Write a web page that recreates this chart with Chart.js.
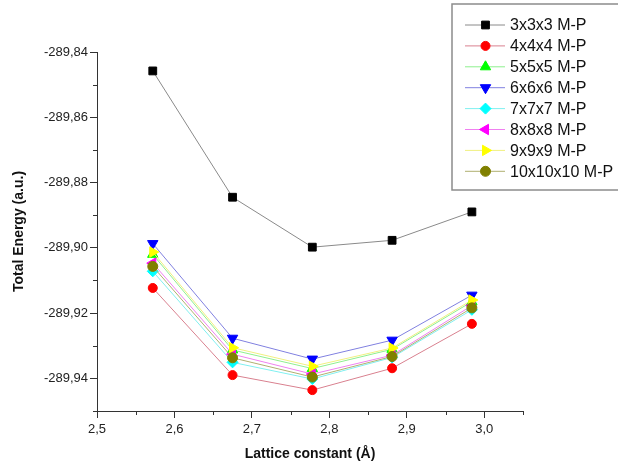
<!DOCTYPE html>
<html>
<head>
<meta charset="utf-8">
<script src="https://cdn.jsdelivr.net/npm/chart.js@4/dist/chart.umd.min.js"></script>
<style>
  html, body { margin: 0; padding: 0; background: #ffffff; }
  #wrap { width: 618px; height: 471px; }
</style>
</head>
<body>
<div id="wrap"><canvas id="c" width="618" height="471"></canvas></div>
<script>
// Lattice constants (Å) of the computed points
const latticeConstants = [2.572, 2.675, 2.778, 2.881, 2.984];

// k-point mesh labels
const meshLabels = ['3x3x3 M-P', '4x4x4 M-P', '5x5x5 M-P', '6x6x6 M-P',
                    '7x7x7 M-P', '8x8x8 M-P', '9x9x9 M-P', '10x10x10 M-P'];

// Total energy (a.u.) for each mesh
const energy3 = [-289.8458, -289.8845, -289.8998, -289.8977, -289.8890];
const energy4 = [-289.9123, -289.9390, -289.9436, -289.9369, -289.9233];
const energy5 = [-289.9020, -289.9313, -289.9370, -289.9311, -289.9165];
const energy6 = [-289.8987, -289.9277, -289.9341, -289.9283, -289.9145];
const energy7 = [-289.9072, -289.9351, -289.9402, -289.9336, -289.9190];
const energy8 = [-289.9047, -289.9326, -289.9387, -289.9329, -289.9177];
const energy9 = [-289.9013, -289.9306, -289.9363, -289.9307, -289.9160];
const energy10 = [-289.9057, -289.9337, -289.9396, -289.9333, -289.9184];

// Axis tick spacing (every second tick is labelled)
const xTickStep = 0.05;
const yTickStep = 0.01;

const allEnergies = [energy3, energy4, energy5, energy6, energy7, energy8, energy9, energy10];

// Marker styling per series
const markerColors = ['#000000', '#ff0000', '#00ff00', '#0000ff', '#00ffff', '#ff00ff', '#ffff00', '#808000'];
const lineColors = ['#8a8a8a', '#d9808f', '#8ef08e', '#8080e0', '#80f0f0', '#f080f0', '#f0f080', '#b0b070'];
const markerShapes = ['rect', 'circle', 'triangle', 'triangle', 'rectRot', 'triangle', 'triangle', 'circle'];
const markerRotations = [0, 0, 0, 180, 0, -90, 90, 0];
const markerRadii = [5.5, 4.5, 6, 6, 5.5, 6, 6, 5];

const FONT = "'Liberation Sans', Arial, Helvetica, sans-serif";
const AXIS_COLOR = '#333333';
const MINOR_TICK = 4;

const datasets = allEnergies.map((vals, i) => ({
  label: meshLabels[i],
  data: latticeConstants.map((x, j) => ({ x: x, y: vals[j] })),
  borderColor: lineColors[i],
  borderWidth: 1,
  backgroundColor: markerColors[i],
  pointBackgroundColor: markerColors[i],
  pointBorderColor: markerColors[i],
  pointBorderWidth: 1,
  pointStyle: markerShapes[i],
  pointRotation: markerRotations[i],
  pointRadius: markerRadii[i],
  pointHoverRadius: markerRadii[i],
  tension: 0,
  fill: false,
  order: allEnergies.length - i
}));

const isMultiple = (v, step) => Math.abs(Math.round(v / step) - v / step) < 1e-6;
const xIsMajor = v => isMultiple(v, 0.1);
const yIsMajor = v => Math.round(v * 100) % 2 === 0;

// Short outward marks for the unlabelled ticks
const minorTicks = {
  id: 'minorTicks',
  afterDraw(chart) {
    const ctx = chart.ctx;
    const xs = chart.scales.x, ys = chart.scales.y;
    ctx.save();
    ctx.strokeStyle = AXIS_COLOR;
    ctx.lineWidth = 1;
    ctx.beginPath();
    xs.ticks.forEach(t => {
      if (xIsMajor(t.value)) return;
      const px = Math.round(xs.getPixelForValue(t.value)) + 0.5;
      ctx.moveTo(px, xs.top);
      ctx.lineTo(px, xs.top + MINOR_TICK);
    });
    ys.ticks.forEach(t => {
      if (yIsMajor(t.value)) return;
      const py = Math.round(ys.getPixelForValue(t.value)) + 0.5;
      ctx.moveTo(ys.right, py);
      ctx.lineTo(ys.right - MINOR_TICK, py);
    });
    ctx.stroke();
    ctx.restore();
  }
};

// Boxed legend drawn over the top-right corner of the plot
const boxedLegend = {
  id: 'boxedLegend',
  afterDraw(chart) {
    const ctx = chart.ctx;
    const left = 452, top = 4, right = 622, bottom = 190;
    ctx.save();
    ctx.fillStyle = '#ffffff';
    ctx.fillRect(left, top, right - left, bottom - top);
    ctx.strokeStyle = '#8c8c8c';
    ctx.lineWidth = 1.5;
    ctx.strokeRect(left, top, right - left, bottom - top);
    const rowTop = 25, rowStep = 20.9;
    chart.data.datasets.forEach((ds, i) => {
      const y = rowTop + i * rowStep;
      ctx.strokeStyle = ds.borderColor;
      ctx.lineWidth = 1;
      ctx.beginPath();
      ctx.moveTo(465, y);
      ctx.lineTo(505, y);
      ctx.stroke();
      ctx.fillStyle = ds.pointBackgroundColor;
      ctx.strokeStyle = ds.pointBorderColor;
      Chart.helpers.drawPoint(ctx, {
        pointStyle: ds.pointStyle,
        rotation: ds.pointRotation,
        radius: ds.pointRadius,
        borderWidth: 1
      }, 485.5, y);
      ctx.fillStyle = '#111111';
      ctx.font = '16px ' + FONT;
      ctx.textBaseline = 'middle';
      ctx.textAlign = 'left';
      ctx.fillText(ds.label, 510, y + 1);
    });
    ctx.restore();
  }
};

new Chart(document.getElementById('c'), {
  type: 'line',
  data: { datasets: datasets },
  plugins: [minorTicks, boxedLegend],
  options: {
    responsive: false,
    animation: false,
    devicePixelRatio: 1,
    layout: { padding: { top: 52, right: 95, bottom: 0, left: 0 } },
    plugins: {
      legend: { display: false },
      tooltip: { enabled: false }
    },
    scales: {
      x: {
        type: 'linear',
        min: 2.5,
        max: 3.05,
        afterFit: s => { s.height = 60; },
        ticks: {
          stepSize: xTickStep,
          autoSkip: false,
          maxRotation: 0,
          padding: 4,
          color: '#222222',
          font: { family: FONT, size: 13 },
          callback: v => xIsMajor(v) ? v.toFixed(1).replace('.', ',') : ''
        },
        grid: {
          display: true,
          drawOnChartArea: false,
          drawTicks: true,
          tickLength: 7,
          tickColor: c => (c.tick && xIsMajor(c.tick.value)) ? AXIS_COLOR : 'rgba(0,0,0,0)',
          color: AXIS_COLOR
        },
        border: { display: true, color: AXIS_COLOR, width: 1 },
        title: {
          display: true,
          text: 'Lattice constant (Å)',
          color: '#111111',
          font: { family: FONT, size: 14, weight: 'bold' },
          padding: { top: 4, bottom: 8 }
        }
      },
      y: {
        type: 'linear',
        min: -289.95,
        max: -289.84,
        afterFit: s => { s.width = 97; },
        ticks: {
          stepSize: yTickStep,
          autoSkip: false,
          padding: 2,
          color: '#222222',
          font: { family: FONT, size: 13 },
          callback: v => yIsMajor(v) ? v.toFixed(2).replace('.', ',') : ''
        },
        grid: {
          display: true,
          drawOnChartArea: false,
          drawTicks: true,
          tickLength: 7,
          tickColor: c => (c.tick && yIsMajor(c.tick.value)) ? AXIS_COLOR : 'rgba(0,0,0,0)',
          color: AXIS_COLOR
        },
        border: { display: true, color: AXIS_COLOR, width: 1 },
        title: {
          display: true,
          text: 'Total Energy (a.u.)',
          color: '#111111',
          font: { family: FONT, size: 14, weight: 'bold' },
          padding: { top: 11, bottom: 4 }
        }
      }
    }
  }
});
</script>
</body>
</html>
